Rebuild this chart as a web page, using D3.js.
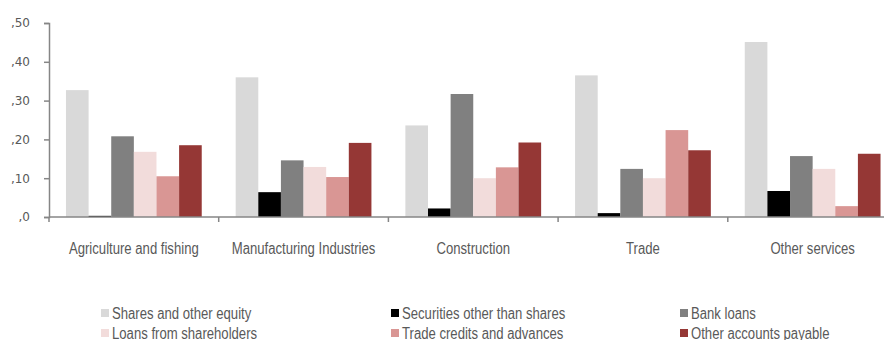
<!DOCTYPE html>
<html>
<head>
<meta charset="utf-8">
<script src="https://cdn.jsdelivr.net/npm/d3@7"></script>
<style>
  html, body { margin: 0; padding: 0; background: #ffffff; }
  svg { display: block; }
  .narrow { font-family: "Liberation Sans", Arial, sans-serif; }
</style>
</head>
<body>
<svg id="chart" width="884" height="340"></svg>
<script>
// Sectors shown along the horizontal axis
const categories = ["Agriculture and fishing", "Manufacturing Industries", "Construction", "Trade", "Other services"];

// Financing instruments (one bar per sector each)
const seriesNames = [
  "Shares and other equity",
  "Securities other than shares",
  "Bank loans",
  "Loans from shareholders",
  "Trade credits and advances",
  "Other accounts payable"
];
const seriesColors = ["#d9d9d9", "#000000", "#808080", "#f2dcdb", "#d99694", "#953735"];

// Share of each instrument, per sector (same order as categories)
const sharesEquity      = [0.327, 0.360, 0.236, 0.365, 0.451];
const securities        = [0.003, 0.064, 0.022, 0.010, 0.067];
const bankLoans         = [0.208, 0.146, 0.317, 0.124, 0.157];
const shareholderLoans  = [0.168, 0.129, 0.100, 0.100, 0.124];
const tradeCredits      = [0.105, 0.103, 0.128, 0.224, 0.028];
const otherPayable      = [0.185, 0.191, 0.192, 0.172, 0.163];

const seriesValues = [sharesEquity, securities, bankLoans, shareholderLoans, tradeCredits, otherPayable];

// Y axis ticks and their labels
const yTickValues = [0, 0.1, 0.2, 0.3, 0.4, 0.5];
const yTickLabels = [",0", ",10", ",20", ",30", ",40", ",50"];

const svg = d3.select("#chart");
const axisColor = "#868686";
const textColor = "#595959";
const condense = 0.82;   // horizontal squeeze for the narrow label face

const plotLeft = 49, plotTop = 23, plotBottom = 217;
const catStep = 169.7;

const x = d3.scaleBand()
  .domain(categories)
  .range([plotLeft, plotLeft + catStep * categories.length])
  .paddingInner(0.2)
  .paddingOuter(0.1);

const x1 = d3.scaleBand()
  .domain(seriesNames)
  .range([0, x.bandwidth()])
  .padding(0);

const y = d3.scaleLinear().domain([0, 0.5]).range([plotBottom, plotTop]);

// Bars
const rows = categories.map((c, i) => ({
  cat: c,
  vals: seriesNames.map((s, j) => ({ name: s, value: seriesValues[j][i], color: seriesColors[j] }))
}));

const groups = svg.append("g").selectAll("g")
  .data(rows)
  .join("g")
  .attr("transform", d => `translate(${x(d.cat)},0)`);

groups.selectAll("rect")
  .data(d => d.vals)
  .join("rect")
  .attr("x", d => x1(d.name))
  .attr("width", x1.bandwidth())
  .attr("y", d => y(d.value))
  .attr("height", d => y(0) - y(d.value))
  .attr("fill", d => d.color);

// Y axis
const yAxis = d3.axisLeft(y)
  .tickValues(yTickValues)
  .tickFormat((d, i) => yTickLabels[i])
  .tickSize(5)
  .tickPadding(14);

const gy = svg.append("g")
  .attr("transform", `translate(${plotLeft},0)`)
  .call(yAxis);
gy.select(".domain").attr("stroke", axisColor).attr("stroke-width", 1.5);
gy.selectAll(".tick line").attr("stroke", axisColor).attr("stroke-width", 1.5);
gy.selectAll(".tick text")
  .attr("fill", textColor)
  .style("font-family", "'DejaVu Sans', sans-serif")
  .style("font-size", "12px");

// X axis: baseline with ticks at category boundaries
const xEnd = plotLeft + catStep * categories.length;
svg.append("line")
  .attr("x1", plotLeft).attr("x2", xEnd)
  .attr("y1", plotBottom).attr("y2", plotBottom)
  .attr("stroke", axisColor).attr("stroke-width", 1.5);

const boundaries = d3.range(categories.length + 1).map(i => plotLeft + x.step() * i);
svg.append("g").selectAll("line")
  .data(boundaries)
  .join("line")
  .attr("x1", d => d).attr("x2", d => d)
  .attr("y1", plotBottom).attr("y2", plotBottom + 5)
  .attr("stroke", axisColor).attr("stroke-width", 1.5);

svg.append("g").selectAll("text")
  .data(categories)
  .join("text")
  .attr("class", "narrow")
  .attr("transform", d => `translate(${x(d) + x.bandwidth() / 2},254) scale(${condense},1)`)
  .attr("text-anchor", "middle")
  .attr("fill", textColor)
  .style("font-size", "16px")
  .text(d => d);

// Legend: three columns, two rows
const legendCols = [101, 391, 680];
const legendRows = [313, 333];
const legend = svg.append("g").selectAll("g")
  .data(seriesNames)
  .join("g")
  .attr("transform", (d, i) => `translate(${legendCols[i % 3]},${legendRows[Math.floor(i / 3)]})`);

legend.append("rect")
  .attr("x", 0).attr("y", -4)
  .attr("width", 8).attr("height", 8)
  .attr("fill", (d, i) => seriesColors[i]);

legend.append("text")
  .attr("class", "narrow")
  .attr("transform", `translate(11,0) scale(${condense},1)`)
  .attr("dy", "0.36em")
  .attr("fill", textColor)
  .style("font-size", "16px")
  .text(d => d);
</script>
</body>
</html>
